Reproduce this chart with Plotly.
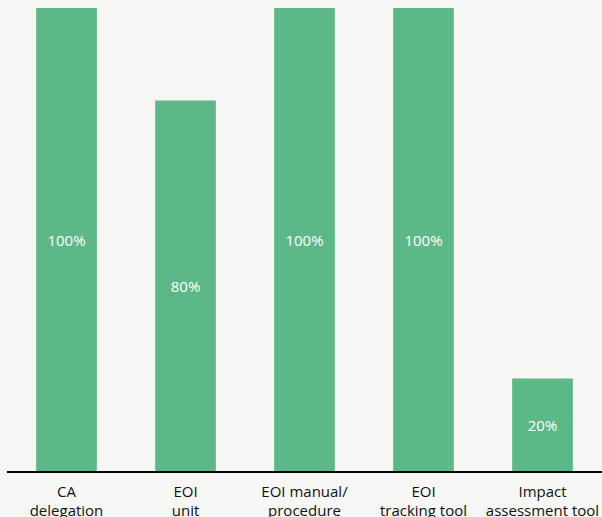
import plotly.graph_objects as go

categories = ["CA<br>delegation", "EOI<br>unit", "EOI manual/<br>procedure", "EOI<br>tracking tool", "Impact<br>assessment tool"]
values = [100, 80, 100, 100, 20]
labels = [f"{v}%" for v in values]

bg = "#f6f6f4"
fig = go.Figure(go.Bar(
    x=categories, y=values, text=labels, textposition="inside",
    insidetextanchor="middle",
    textfont=dict(color="white", size=15, family="Open Sans"),
    marker=dict(color="#5cb987", line=dict(width=0)),
))
fig.update_layout(
    width=602, height=517,
    margin=dict(l=7, r=0, t=8, b=46),
    paper_bgcolor=bg, plot_bgcolor=bg,
    bargap=0.49,
    showlegend=False,
    font=dict(family="Open Sans", color="#111111", size=15),
)
fig.update_xaxes(showline=True, linecolor="black", linewidth=1.5, ticks="", showgrid=False,
                 tickfont=dict(size=15, color="#111111"), ticklabelstandoff=6, automargin=False)
fig.update_yaxes(range=[0, 100], visible=False, showgrid=False, automargin=False)
fig.write_html("out.html")
